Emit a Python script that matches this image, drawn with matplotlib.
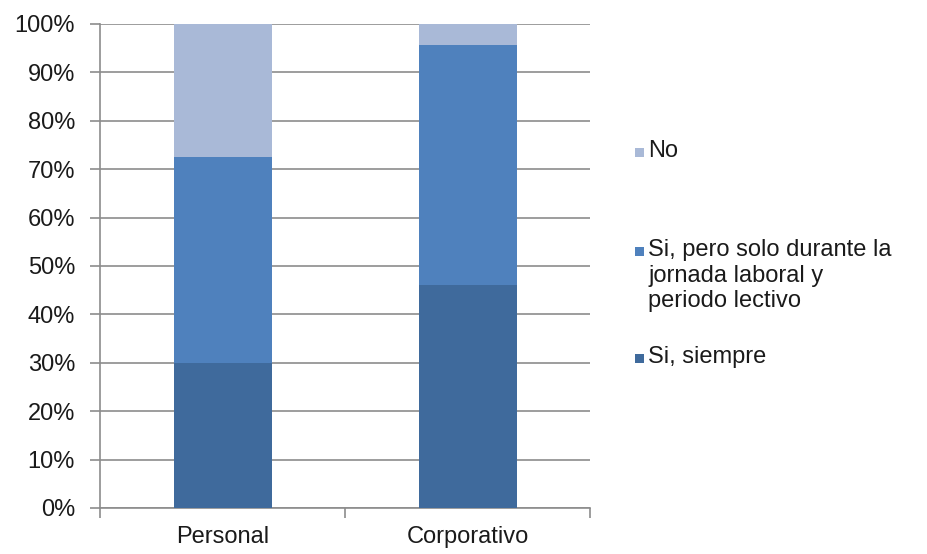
import matplotlib
matplotlib.use('Agg')
import matplotlib.pyplot as plt
from matplotlib.patches import Rectangle
import numpy as np

plt.rcParams['font.family'] = ['Liberation Sans', 'DejaVu Sans']

categories = ['Personal', 'Corporativo']
series_names = ['Si, siempre', 'Si, pero solo durante la\njornada laboral y\nperiodo lectivo', 'No']
siempre = [30.0, 46.0]
pero_solo = [42.5, 49.7]
no = [27.5, 4.3]
colors = ['#3F6A9C', '#4F81BD', '#A9B9D7']
yticks = np.arange(0, 101, 10)
FS = 17

fig = plt.figure(figsize=(9.27, 5.54), dpi=100)
ax = fig.add_axes([100 / 927, 1 - 508 / 554, 490 / 927, 484 / 554])

x = np.arange(len(categories)) + 0.5
bottom = np.zeros(len(categories))
for vals, col in zip([siempre, pero_solo, no], colors):
    ax.bar(x, vals, width=0.4, bottom=bottom, color=col, zorder=3)
    bottom += np.array(vals)

ax.set_xlim(0, 2)
ax.set_ylim(0, 100)
ax.set_yticks(yticks)
ax.set_yticklabels([f'{v}%' for v in yticks], fontsize=FS, color='#1a1a1a')
ax.yaxis.grid(True, color='#8c8c8c', lw=1.2, zorder=0)
ax.set_xticks([0, 1, 2])
ax.set_xticklabels([])
ax.set_xticks(x, minor=True)
ax.set_xticklabels(categories, minor=True, fontsize=FS, color='#1a1a1a')
ax.tick_params(axis='x', which='minor', length=0, pad=13)
ax.tick_params(axis='x', which='major', length=7, color='#8c8c8c', width=1.2)
ax.tick_params(axis='y', length=7, color='#8c8c8c', width=1.2, pad=11)
for s in ['top', 'right']:
    ax.spines[s].set_visible(False)
for s in ['left', 'bottom']:
    ax.spines[s].set_color('#8c8c8c')
    ax.spines[s].set_linewidth(1.2)

# legend drawn Excel-style: marker aligned with the first text line
W, H = 927, 554
leg = [(2, 153), (1, 252), (0, 359)]
for idx, ypx in leg:
    fig.add_artist(Rectangle((635 / W, 1 - (ypx + 4) / H), 9 / W, 9 / H,
                             transform=fig.transFigure, color=colors[idx], lw=0))
    fig.text(648 / W, 1 - (ypx - 13) / H, series_names[idx], fontsize=FS,
             color='#1a1a1a', va='top', ha='left', linespacing=1.22)

fig.savefig('out.png', dpi=100)
